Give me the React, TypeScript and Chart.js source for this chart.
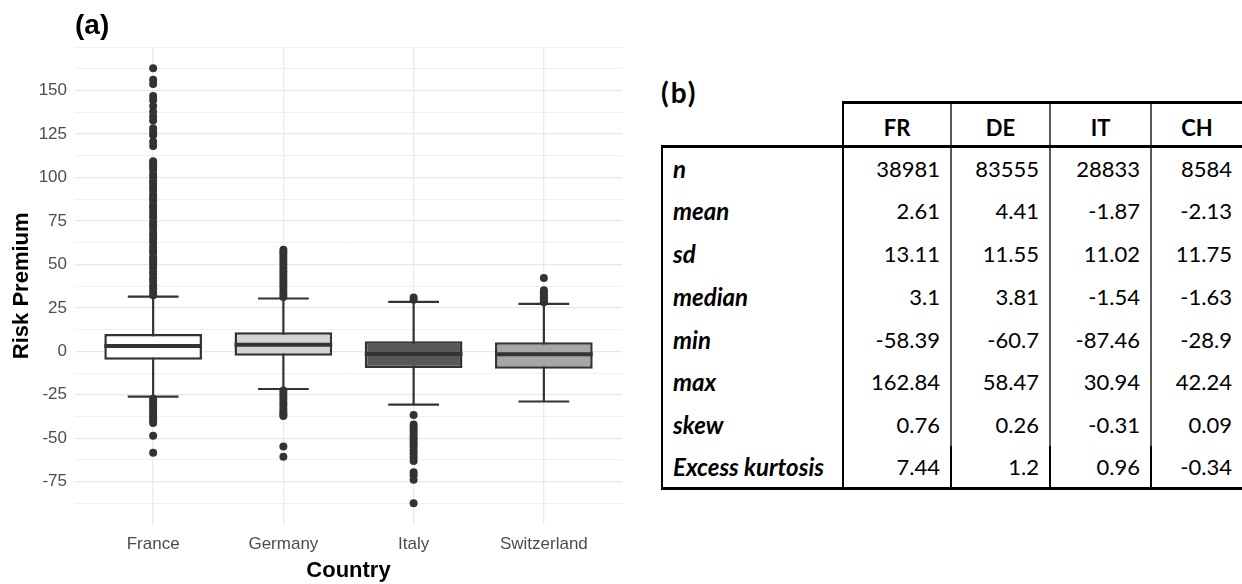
import React, { useEffect, useRef } from "react";
import { Chart, registerables } from "chart.js";

Chart.register(...registerables);

// ---------- Boxplot data (a) ----------
const countries = ["France", "Germany", "Italy", "Switzerland"];
const q1Values = [-4.8, -2.5, -9.6, -10.0];
const q3Values = [10.0, 10.9, 5.8, 5.2];
const medianValues = [3.1, 3.81, -1.54, -1.63];
const whiskerLow = [-26.1, -21.7, -30.7, -28.9];
const whiskerHigh = [31.5, 30.4, 28.5, 27.3];

const outliersFrance = [
  32.2, 34.1, 36.3, 38.0, 40.4, 42.1, 44.5, 46.2, 48.3, 50.6, 52.4, 54.1, 56.7, 58.3,
  60.2, 62.6, 64.3, 66.5, 68.1, 70.4, 72.6, 74.2, 76.8, 78.5, 80.3, 82.6, 84.2, 86.7,
  88.4, 90.1, 92.5, 94.3, 96.6, 98.2, 100.4, 102.1, 104.6, 106.3, 108.2, 109.4,
  118.1, 120.6, 124.3, 126.2, 128.4, 132.8, 135.1, 137.9, 141.2, 144.6, 146.9,
  153.8, 156.3, 162.84,
  -27.3, -28.8, -30.4, -31.9, -33.5, -35.0, -36.6, -38.1, -39.7, -41.3, -48.6, -58.39,
];
const outliersGermany = [
  31.2, 33.0, 34.9, 36.8, 38.7, 40.5, 42.4, 44.3, 46.1, 48.0, 49.8, 51.7, 53.5, 55.4,
  57.0, 58.47,
  -22.6, -24.3, -26.1, -27.9, -29.7, -31.4, -33.2, -35.0, -36.4, -37.3, -54.8, -60.7,
];
const outliersItaly = [
  29.7, 30.94,
  -36.6, -42.1, -43.9, -45.4, -46.9, -48.6, -50.1, -51.8, -53.4, -55.0, -56.9, -58.8,
  -61.0, -63.2, -69.6, -71.3, -73.9, -87.46,
];
const outliersSwitzerland = [28.2, 29.3, 30.5, 31.6, 32.7, 34.0, 35.2, 42.24];
const outlierGroups = [outliersFrance, outliersGermany, outliersItaly, outliersSwitzerland];

const yMajorTicks = [-75, -50, -25, 0, 25, 50, 75, 100, 125, 150];
const yMinorTicks = [-87.5, -62.5, -37.5, -12.5, 12.5, 37.5, 62.5, 87.5, 112.5, 137.5, 162.5, 175];

// ---------- Table data (b) ----------
const tableColumns = ["FR", "DE", "IT", "CH"];
const statLabels = ["n", "mean", "sd", "median", "min", "max", "skew", "Excess kurtosis"];
const rowN = ["38981", "83555", "28833", "8584"];
const rowMean = ["2.61", "4.41", "-1.87", "-2.13"];
const rowSd = ["13.11", "11.55", "11.02", "11.75"];
const rowMedian = ["3.1", "3.81", "-1.54", "-1.63"];
const rowMin = ["-58.39", "-60.7", "-87.46", "-28.9"];
const rowMax = ["162.84", "58.47", "30.94", "42.24"];
const rowSkew = ["0.76", "0.26", "-0.31", "0.09"];
const rowKurtosis = ["7.44", "1.2", "0.96", "-0.34"];
const tableRows = [rowN, rowMean, rowSd, rowMedian, rowMin, rowMax, rowSkew, rowKurtosis];

// ---------- Styles ----------
const BOX_FILLS = ["#ffffff", "#d3d3d3", "#585858", "#a6a6a6"];
const LINE_COLOR = "#333333";
const BOX_WIDTH_FRACTION = 0.75;
const CAP_HALF = 0.195;
const AXIS_FONT = "'Liberation Sans', Arial, sans-serif";
const TABLE_FONT = "Lato, 'Noto Sans', sans-serif";

function BoxPlot() {
  const ref = useRef<HTMLCanvasElement | null>(null);
  useEffect(() => {
    if (!ref.current) return;
    const boxData = countries.map((_, i) => ({ x: i + 1, y: [q1Values[i], q3Values[i]] }));
    const whiskerPts: any[] = [];
    const medianPts: any[] = [];
    const half = BOX_WIDTH_FRACTION / 2;
    countries.forEach((_, i) => {
      const x = i + 1;
      whiskerPts.push({ x, y: whiskerLow[i] }, { x, y: whiskerHigh[i] }, { x, y: null });
      whiskerPts.push({ x: x - CAP_HALF, y: whiskerHigh[i] }, { x: x + CAP_HALF, y: whiskerHigh[i] }, { x, y: null });
      whiskerPts.push({ x: x - CAP_HALF, y: whiskerLow[i] }, { x: x + CAP_HALF, y: whiskerLow[i] }, { x, y: null });
      medianPts.push({ x: x - half, y: medianValues[i] }, { x: x + half, y: medianValues[i] }, { x, y: null });
    });
    const outlierPts: any[] = [];
    outlierGroups.forEach((g, i) => g.forEach((v) => outlierPts.push({ x: i + 1, y: v })));

    const chart = new Chart(ref.current, {
      type: "bar",
      data: {
        datasets: [
          {
            type: "scatter",
            data: outlierPts,
            pointRadius: 4,
            pointHoverRadius: 4,
            backgroundColor: LINE_COLOR,
            borderWidth: 0,
          } as any,
          {
            type: "scatter",
            data: medianPts,
            showLine: true,
            pointRadius: 0,
            borderColor: LINE_COLOR,
            borderWidth: 4,
            spanGaps: false,
          } as any,
          {
            type: "bar",
            data: boxData as any,
            backgroundColor: BOX_FILLS,
            borderColor: LINE_COLOR,
            borderWidth: 2.5,
            borderSkipped: false,
            barPercentage: BOX_WIDTH_FRACTION,
            categoryPercentage: 1,
          } as any,
          {
            type: "scatter",
            data: whiskerPts,
            showLine: true,
            pointRadius: 0,
            borderColor: LINE_COLOR,
            borderWidth: 2.2,
            spanGaps: false,
          } as any,
        ],
      },
      options: {
        responsive: false,
        animation: false,
        devicePixelRatio: 1,
        layout: { padding: { left: 0, right: 18, top: 0, bottom: 0 } },
        plugins: {
          legend: { display: false },
          tooltip: { enabled: false },
          title: {
            display: true,
            text: "(a)",
            align: "start",
            fullSize: false,
            color: "#000",
            font: { family: AXIS_FONT, size: 28, weight: "bold" },
            padding: { top: 9, bottom: 4 },
          },
        },
        scales: {
          x: {
            type: "linear",
            min: 0.4,
            max: 4.6,
            offset: false,
            afterBuildTicks: (s: any) => {
              s.ticks = countries.map((_, i) => ({ value: i + 1 }));
            },
            afterFit: (s: any) => {
              s.height = 59;
            },
            ticks: {
              color: "#4d4d4d",
              font: { family: AXIS_FONT, size: 17 },
              padding: 9,
              callback: (v: any) => countries[Math.round(Number(v)) - 1] ?? "",
            },
            grid: { color: "#ebebeb", lineWidth: 1.3, drawTicks: false, offset: false },
            border: { display: false },
            title: {
              display: true,
              text: "Country",
              color: "#000",
              font: { family: AXIS_FONT, size: 22, weight: "bold" },
              padding: { top: 0, bottom: 0 },
            },
          },
          y: {
            type: "linear",
            min: -99.97,
            max: 175.36,
            afterBuildTicks: (s: any) => {
              s.ticks = [...yMajorTicks, ...yMinorTicks]
                .sort((a, b) => a - b)
                .map((v) => ({ value: v }));
            },
            afterFit: (s: any) => {
              s.width = 75;
            },
            ticks: {
              color: "#4d4d4d",
              font: { family: AXIS_FONT, size: 17 },
              padding: 8,
              autoSkip: false,
              callback: (v: any) => (yMajorTicks.includes(Number(v)) ? String(v) : ""),
            },
            grid: {
              drawTicks: false,
              color: (c: any) => (c.tick && yMajorTicks.includes(c.tick.value) ? "#e8e8e8" : "#f0f0f0"),
              lineWidth: (c: any) => (c.tick && yMajorTicks.includes(c.tick.value) ? 1.3 : 1),
            },
            border: { display: false },
            title: {
              display: true,
              text: "Risk Premium",
              color: "#000",
              font: { family: AXIS_FONT, size: 22, weight: "bold" },
              padding: { top: 9, bottom: 0 },
            },
          },
        },
      } as any,
    });
    return () => chart.destroy();
  }, []);
  return (
    <canvas
      ref={ref}
      width={640}
      height={584}
      style={{ position: "absolute", left: 0, top: 0, width: 640, height: 584 }}
    />
  );
}

function StatsTable() {
  const colWidths = [181, 108, 99, 101, 91];
  const black = "2px solid #000";
  const thick = "3px solid #000";
  const grey = "2px solid #5a5a5a";
  const cellBase: React.CSSProperties = {
    fontFamily: TABLE_FONT,
    fontSize: 22,
    color: "#000",
    padding: 0,
    boxSizing: "border-box",
  };
  return (
    <div style={{ position: "absolute", left: 0, top: 0 }}>
      <div
        style={{
          position: "absolute",
          left: 661,
          top: 77,
          fontFamily: TABLE_FONT,
          fontWeight: 700,
          fontSize: 28,
          letterSpacing: 2,
          color: "#000",
          lineHeight: "30px",
        }}
      >
        (b)
      </div>
      <table
        style={{
          position: "absolute",
          left: 661,
          top: 101,
          borderCollapse: "collapse",
          tableLayout: "fixed",
          width: colWidths.reduce((a, b) => a + b, 0),
        }}
      >
        <colgroup>
          {colWidths.map((w, i) => (
            <col key={i} style={{ width: w }} />
          ))}
        </colgroup>
        <tbody>
          <tr style={{ height: 44 }}>
            <td style={{ ...cellBase, borderBottom: thick, borderRight: black }} />
            {tableColumns.map((c, i) => (
              <td
                key={c}
                style={{
                  ...cellBase,
                  fontWeight: 700,
                  textAlign: "center",
                  paddingTop: 6,
                  borderTop: thick,
                  borderBottom: thick,
                  borderRight: i < tableColumns.length - 1 ? grey : "none",
                }}
              >
                {c}
              </td>
            ))}
          </tr>
          {statLabels.map((label, r) => {
            const last = r === statLabels.length - 1;
            const sep = last ? black : grey;
            return (
              <tr key={label} style={{ height: 42.8 }}>
                <td
                  style={{
                    ...cellBase,
                    fontSize: 24,
                    fontWeight: 700,
                    fontStyle: "italic",
                    paddingLeft: 10,
                    whiteSpace: "nowrap",
                    borderLeft: black,
                    borderRight: black,
                    borderBottom: last ? thick : "none",
                  }}
                >
                  {label}
                </td>
                {tableRows[r].map((v, c) => (
                  <td
                    key={c}
                    style={{
                      ...cellBase,
                      textAlign: "right",
                      paddingRight: 10,
                      borderRight: c < tableColumns.length - 1 ? sep : "none",
                      borderBottom: last ? thick : "none",
                    }}
                  >
                    {v}
                  </td>
                ))}
              </tr>
            );
          })}
        </tbody>
      </table>
    </div>
  );
}

export default function App() {
  return (
    <div
      style={{
        position: "fixed",
        left: 0,
        top: 0,
        width: 1242,
        height: 584,
        background: "#fff",
        overflow: "hidden",
      }}
    >
      <BoxPlot />
      <StatsTable />
    </div>
  );
}
